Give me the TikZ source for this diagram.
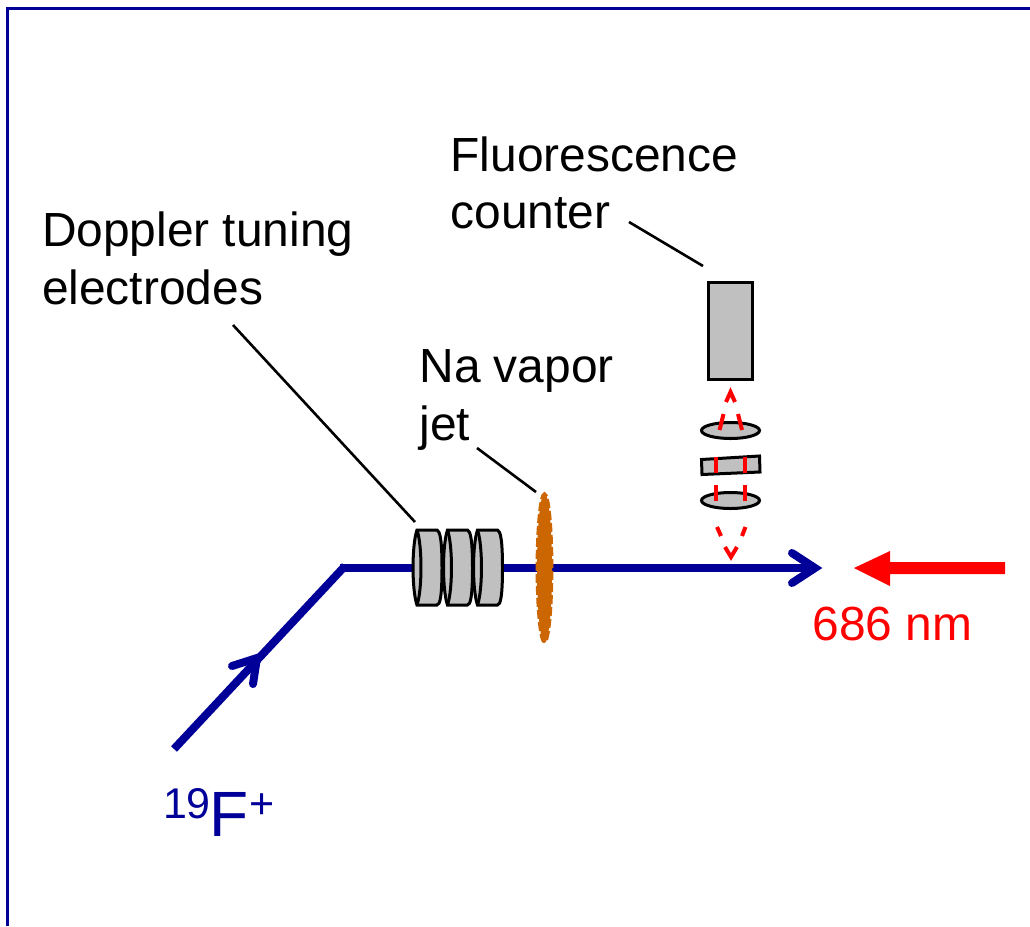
\documentclass[tikz,border=0pt]{standalone}
\usepackage{fontspec}
\setmainfont{Liberation Sans}
\usetikzlibrary{calc}
\definecolor{beamblue}{HTML}{000099}
\definecolor{lasred}{HTML}{FF0000}
\definecolor{partgray}{HTML}{C0C0C0}
\definecolor{jetorange}{HTML}{CC6600}
\tikzset{
  x=1pt,y=-1pt,
  lbl/.style={inner sep=0pt,outer sep=0pt,anchor=base west,font=\fontsize{47.9}{57}\selectfont,text=black},
  leader/.style={draw=black,line width=2.6pt},
  part/.style={draw=black,line width=3pt,fill=partgray},
  beam/.style={draw=beamblue,line width=8pt},
  head/.style={draw=beamblue,line width=8pt,line cap=round,line join=miter},
  ray/.style={draw=lasred,line width=4pt},
}
\begin{document}
\begin{tikzpicture}
\useasboundingbox (0,0) rectangle (1030,926);
\fill[white] (0,0) rectangle (1030,926);
\draw[beamblue,line width=3pt] (7,926) -- (7,8.5) -- (1030,8.5);

% beam
\coordinate (bs) at (174,749);
\coordinate (bk) at (345,566);
\coordinate (bh) at (340,568);
\coordinate (be) at (812,568);
\draw[beam] (bs) -- (bk);
\draw[beam] (bh) -- (be);
\coordinate (ah1) at (257,658);
\draw[head] (232,666) -- (ah1) -- (253,684);
\draw[head] (792,553) -- (815,568) -- (792,583);

% electrodes
\foreach \n/\xx in {a/413,b/443.5,c/473.5}{
  \path[part] (\xx+4,530) -- (\xx+24,530) .. controls (\xx+27,531) and (\xx+29,540) .. (\xx+29,568)
     .. controls (\xx+29,596) and (\xx+27,605) .. (\xx+24,605)
     -- (\xx+4,605) .. controls (\xx-1.3,590) and (\xx-1.3,545) .. (\xx+4,530) -- cycle;
  \draw[line width=3pt,black] (\xx+4,530) .. controls (\xx+9.3,545) and (\xx+9.3,590) .. (\xx+4,605);
}
\coordinate (elec) at (415,522);
\coordinate (jettop) at (536,492);

% jet
\fill[jetorange] (544.5,568) ellipse [x radius=7.5pt,y radius=75pt];
\draw[jetorange,line width=3.4pt,dash pattern=on 9pt off 3pt] (544.5,568) ellipse [x radius=7.2pt,y radius=74pt];

% fluorescence optics
\node[part,minimum width=44pt,minimum height=97pt,inner sep=0pt,anchor=center] (det) at (730.5,330.5) {};
\draw[part] (730.5,430.5) ellipse [x radius=29pt,y radius=8pt];
\draw[part] (730.5,500.5) ellipse [x radius=29pt,y radius=8pt];
\draw[part] (701.5,459.5) -- (759.5,456) -- (760,472) -- (702,474.5) -- cycle;
\draw[ray] (719.5,430) -- (723.5,414);
\draw[ray] (742,430) -- (738,414);
\draw[ray,line join=miter] (726,402) -- (730.5,392) -- (735,402);
\draw[ray] (716,457) -- (716,473);
\draw[ray] (745,457) -- (745,473);
\draw[ray] (716,485) -- (716,501);
\draw[ray] (745,485) -- (745,501);
\draw[ray] (717,527) -- (721,536);
\draw[ray] (745.5,527) -- (742,536);
\draw[ray,line join=miter] (725,547) -- (731,557) -- (737,547);

% red arrow
\fill[lasred] (1005,562) -- (890,562) -- (890,551) -- (854,568) -- (890,586) -- (890,574) -- (1005,574) -- cycle;

% labels
\node[lbl] (tFluor) at (450.5,171) {Fluorescence};
\node[lbl] (tCount) at (450.5,228) {counter};
\node[lbl] (tDopp) at (42,246) {Doppler tuning};
\node[lbl] (tElec) at (42,304) {electrodes};
\node[lbl] (tNa) at (419.5,382) {Na vapor};
\node[lbl] (tJet) at (419.5,440) {jet};
\node[lbl,text=lasred] (t686) at (812.5,640) {686 nm};
\node[lbl,text=beamblue,font=\fontsize{43}{48}\selectfont] (t19) at (163,818) {19};
\node[lbl,text=beamblue,font=\fontsize{64}{70}\selectfont] (tF) at (209,836) {F};
\node[lbl,text=beamblue,font=\fontsize{43}{48}\selectfont] (tPlus) at (249,818) {+};

% leaders
\coordinate (lc) at (629,222);
\coordinate (ld) at (703,266);
\draw[leader] (lc) -- (ld);
\coordinate (le) at (233,325);
\draw[leader] (le) -- (elec);
\coordinate (lj) at (477,448);
\draw[leader] (lj) -- (jettop);
\end{tikzpicture}
\end{document}
